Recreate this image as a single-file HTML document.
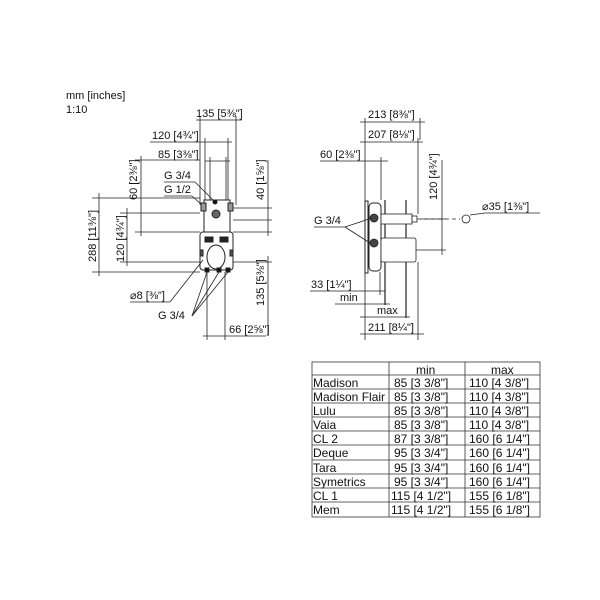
<!DOCTYPE html><html><head><style>body{margin:0;background:#fff}svg{display:block}text{font-family:"Liberation Sans",sans-serif;font-size:11px;fill:#111}.t text{font-size:12px}</style></head><body>
<svg width="600" height="600" viewBox="0 0 600 600" xmlns="http://www.w3.org/2000/svg" stroke="#222" stroke-width="0.8" fill="none">
<text x="66" y="99" stroke="none">mm [inches]</text>
<text x="66" y="113" stroke="none">1:10</text>
<g>
<line x1="196" y1="120" x2="242" y2="120"/><line x1="200" y1="116" x2="200" y2="205"/><line x1="236" y1="116" x2="236" y2="205"/>
<line x1="150" y1="142" x2="232" y2="142"/><line x1="205" y1="138" x2="205" y2="205"/><line x1="228" y1="138" x2="228" y2="205"/>
<line x1="205" y1="161" x2="230" y2="161"/><line x1="210" y1="157" x2="210" y2="205"/><line x1="226" y1="157" x2="226" y2="205"/>
<text x="196" y="117" stroke="none">135 [5⅜"]</text>
<text x="152" y="139" stroke="none">120 [4¾"]</text>
<text x="158" y="158" stroke="none">85 [3⅜"]</text>
<text x="164" y="179" stroke="none">G 3/4</text><text x="164" y="193" stroke="none">G 1/2</text>
<line x1="164" y1="182" x2="195" y2="182"/><line x1="195" y1="182" x2="215" y2="202"/>
<line x1="164" y1="196" x2="192" y2="196"/><line x1="192" y1="196" x2="212" y2="214"/>
</g>
<g stroke-width="1">
<rect x="204" y="200" width="26" height="32" fill="#fff"/>
<rect x="200" y="232" width="33" height="38" rx="3" fill="#fff"/>
<rect x="201" y="203" width="5" height="8" fill="#999"/><rect x="228" y="203" width="5" height="8" fill="#999"/>
<circle cx="216" cy="214" r="4" fill="#666"/><circle cx="215" cy="202" r="2" fill="#111"/>
<rect x="205" y="237" width="8" height="5" fill="#222"/><rect x="220" y="237" width="8" height="5" fill="#222"/>
<ellipse cx="216" cy="257" rx="9" ry="12" fill="none"/>
<rect x="205" y="268" width="4" height="4" fill="#111"/><rect x="217" y="268" width="4" height="4" fill="#111"/><rect x="226" y="268" width="4" height="4" fill="#111"/>
<rect x="200" y="250" width="3" height="6" fill="#555"/><rect x="230" y="250" width="3" height="6" fill="#555"/>
</g>
<g>
<line x1="92" y1="198" x2="200" y2="198"/><line x1="92" y1="272" x2="200" y2="272"/><line x1="99" y1="193" x2="99" y2="276"/>
<line x1="120" y1="213" x2="200" y2="213"/><line x1="120" y1="262" x2="200" y2="262"/><line x1="127" y1="208" x2="127" y2="266"/>
<line x1="135" y1="160" x2="200" y2="160"/><line x1="135" y1="232" x2="200" y2="232"/><line x1="141" y1="156" x2="141" y2="236"/>
<text transform="translate(96,262) rotate(-90)" stroke="none">288 [11⅜"]</text>
<text transform="translate(124,262) rotate(-90)" stroke="none">120 [4¾"]</text>
<text transform="translate(137,200) rotate(-90)" stroke="none">60 [2⅜"]</text>
<line x1="233" y1="208" x2="272" y2="208"/><line x1="233" y1="220" x2="272" y2="220"/><line x1="233" y1="232" x2="272" y2="232"/><line x1="233" y1="262" x2="272" y2="262"/>
<line x1="268" y1="160" x2="268" y2="236"/><line x1="268" y1="256" x2="268" y2="335"/>
<text transform="translate(264,200) rotate(-90)" stroke="none">40 [1⅝"]</text>
<text transform="translate(264,306) rotate(-90)" stroke="none">135 [5⅜"]</text>
<line x1="207" y1="272" x2="207" y2="340"/><line x1="225" y1="272" x2="225" y2="340"/><line x1="203" y1="336" x2="266" y2="336"/>
<text x="229" y="333" stroke="none">66 [2⅝"]</text>
<text x="130" y="299" stroke="none">⌀8 [⅜"]</text>
<line x1="130" y1="302" x2="170" y2="302"/><line x1="170" y1="302" x2="203" y2="260"/>
<text x="158" y="319" stroke="none">G 3/4</text>
<line x1="192" y1="316" x2="207" y2="272"/><line x1="192" y1="316" x2="219" y2="272"/><line x1="192" y1="316" x2="228" y2="272"/>
</g>
<g>
<line x1="365" y1="118" x2="365" y2="340"/><line x1="420" y1="118" x2="420" y2="140"/><line x1="418" y1="138" x2="418" y2="214"/>
<line x1="360" y1="122" x2="425" y2="122"/><line x1="360" y1="142" x2="423" y2="142"/><line x1="320" y1="161" x2="388" y2="161"/>
<line x1="381" y1="157" x2="381" y2="200"/>
<text x="368" y="118" stroke="none">213 [8⅜"]</text>
<text x="368" y="138" stroke="none">207 [8⅛"]</text>
<text x="320" y="158" stroke="none">60 [2⅜"]</text>
<rect x="365" y="201" width="3" height="72" fill="#fff" stroke-width="1"/>
<rect x="369" y="203" width="12" height="68" rx="4" fill="#fff" stroke-width="1"/>
<line x1="385" y1="200" x2="385" y2="305" stroke-width="1.2"/><line x1="406" y1="200" x2="406" y2="318" stroke-width="1.2"/>
<rect x="381" y="214" width="31" height="10" fill="#fff"/><rect x="412" y="216" width="5" height="6" fill="#fff"/>
<rect x="381" y="238" width="35" height="24" rx="2" fill="#fff"/>
<circle cx="374" cy="218" r="4" fill="#444"/><circle cx="374" cy="243" r="4" fill="#444"/>
<line x1="417" y1="219" x2="460" y2="219" stroke-dasharray="4,3"/>
<circle cx="466" cy="219" r="4"/><line x1="470" y1="215" x2="485" y2="213"/><line x1="485" y1="213" x2="540" y2="213"/>
<text x="482" y="210" stroke="none">⌀35 [1⅜"]</text>
<line x1="420" y1="219" x2="446" y2="219"/><line x1="416" y1="250" x2="446" y2="250"/><line x1="442" y1="160" x2="442" y2="255"/>
<text transform="translate(437,200) rotate(-90)" stroke="none">120 [4¾"]</text>
<text x="314" y="224" stroke="none">G 3/4</text>
<line x1="314" y1="227" x2="345" y2="227"/><line x1="345" y1="227" x2="372" y2="218"/><line x1="345" y1="227" x2="370" y2="243"/>
<line x1="310" y1="291" x2="385" y2="291"/><line x1="380" y1="272" x2="380" y2="295"/>
<text x="311" y="288" stroke="none">33 [1¼"]</text>
<line x1="335" y1="304" x2="390" y2="304"/><text x="340" y="301" stroke="none">min</text>
<line x1="360" y1="317" x2="410" y2="317"/><text x="377" y="314" stroke="none">max</text>
<line x1="360" y1="334" x2="424" y2="334"/><line x1="418" y1="262" x2="418" y2="340"/>
<text x="368" y="331" stroke="none">211 [8¼"]</text>
</g>
<g stroke="#333" stroke-width="0.8">
<rect x="312" y="362" width="228" height="155"/>
<line x1="389" y1="362" x2="389" y2="517"/><line x1="465" y1="362" x2="465" y2="517"/>
<line x1="312" y1="375" x2="540" y2="375"/><line x1="312" y1="389" x2="540" y2="389"/><line x1="312" y1="403" x2="540" y2="403"/><line x1="312" y1="417" x2="540" y2="417"/><line x1="312" y1="431" x2="540" y2="431"/><line x1="312" y1="445" x2="540" y2="445"/><line x1="312" y1="460" x2="540" y2="460"/><line x1="312" y1="474" x2="540" y2="474"/><line x1="312" y1="488" x2="540" y2="488"/><line x1="312" y1="502" x2="540" y2="502"/>
</g>
<g stroke="none" class="t">
<text x="416" y="374">min</text><text x="491" y="374">max</text>
<text x="313" y="387">Madison</text><text x="394" y="387">85 [3 3/8"]</text><text x="469" y="387">110 [4 3/8"]</text>
<text x="313" y="401">Madison Flair</text><text x="394" y="401">85 [3 3/8"]</text><text x="469" y="401">110 [4 3/8"]</text>
<text x="313" y="415">Lulu</text><text x="394" y="415">85 [3 3/8"]</text><text x="469" y="415">110 [4 3/8"]</text>
<text x="313" y="429">Vaia</text><text x="394" y="429">85 [3 3/8"]</text><text x="469" y="429">110 [4 3/8"]</text>
<text x="313" y="443">CL 2</text><text x="394" y="443">87 [3 3/8"]</text><text x="469" y="443">160 [6 1/4"]</text>
<text x="313" y="457">Deque</text><text x="394" y="457">95 [3 3/4"]</text><text x="469" y="457">160 [6 1/4"]</text>
<text x="313" y="472">Tara</text><text x="394" y="472">95 [3 3/4"]</text><text x="469" y="472">160 [6 1/4"]</text>
<text x="313" y="486">Symetrics</text><text x="394" y="486">95 [3 3/4"]</text><text x="469" y="486">160 [6 1/4"]</text>
<text x="313" y="500">CL 1</text><text x="391" y="500">115 [4 1/2"]</text><text x="469" y="500">155 [6 1/8"]</text>
<text x="313" y="514">Mem</text><text x="391" y="514">115 [4 1/2"]</text><text x="469" y="514">155 [6 1/8"]</text>
</g>
</svg></body></html>
